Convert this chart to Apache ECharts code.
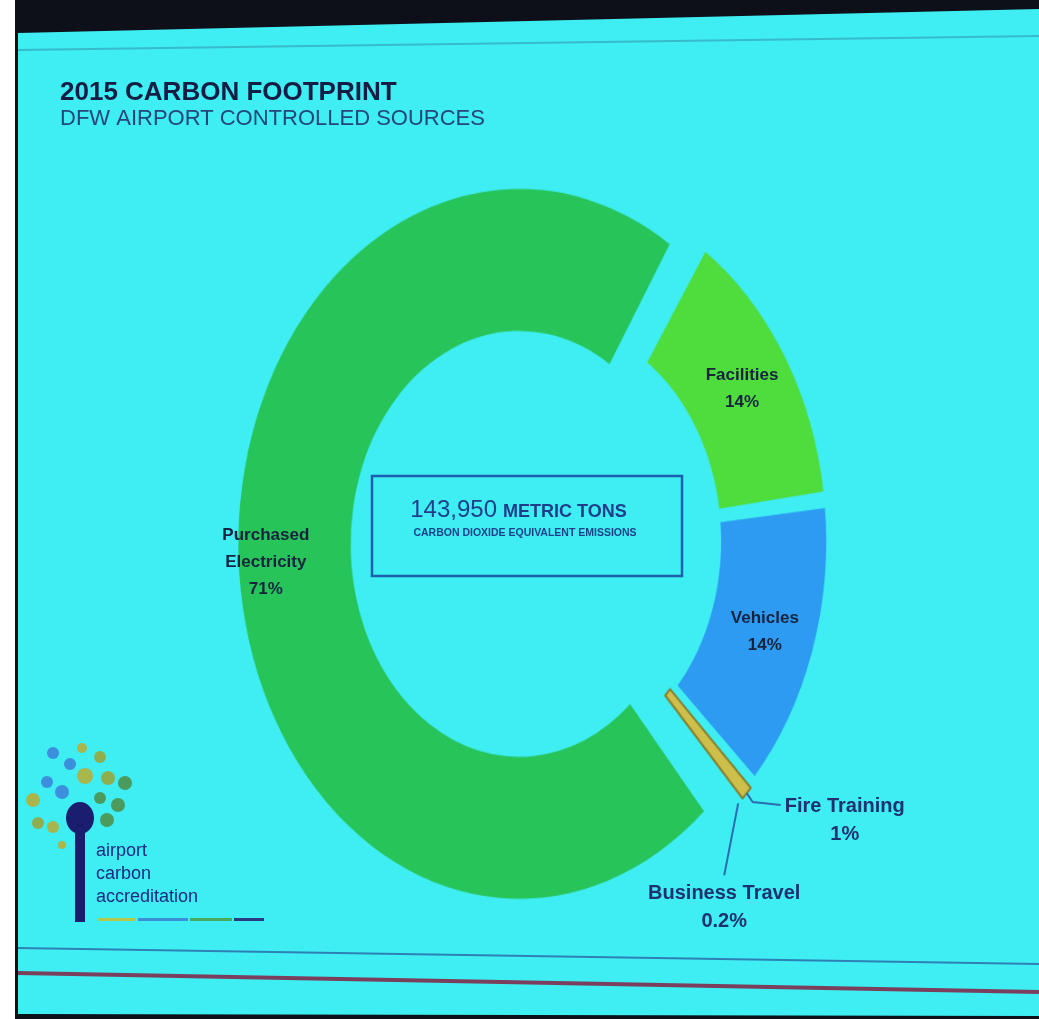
<!DOCTYPE html>
<html><head><meta charset="utf-8">
<script src="https://cdn.jsdelivr.net/npm/echarts@6/dist/echarts.min.js"></script>
<style>
html,body{margin:0;padding:0;background:#0d1018;overflow:hidden;}
.layer{position:absolute;left:0;top:0;width:1039px;height:1019px;}
#ring{transform-origin:549px 541px;transform:scale(0.906,1.145);}
</style>
</head><body>
<div id="base" class="layer"></div>
<div id="ring" class="layer"></div>
<div id="labels" class="layer"></div>
<script>
// ---- data ----
var categories = ['Facilities', 'Vehicles', 'Fire Training', 'Business Travel', 'Purchased Electricity'];
var labelNames = ['Facilities', 'Vehicles', 'Fire Training', 'Business Travel', 'Purchased\nElectricity'];
var shares = [14, 14, 1, 0.2, 71];
var shareLabels = ['14%', '14%', '1%', '0.2%', '71%'];
var titleText = '2015 CARBON FOOTPRINT';
var subtitleText = 'DFW AIRPORT CONTROLLED SOURCES';
var totalValue = '143,950';
var totalUnit = 'METRIC TONS';
var totalNote = 'CARBON DIOXIDE EQUIVALENT EMISSIONS';
var logoText = 'airport\ncarbon\naccreditation';

// ---- styling / layout ----
var sliceColors = ['#4fdd3e', '#2c9bf1', '#cdbf4a', '#2f6fc0', '#27c45a'];
var insideLabel = [true, true, false, false, true];
var exploded = [false, false, false, false, true];
var FONT = '"Liberation Sans", Arial, sans-serif';
var FT = 2, BT = 3;
var CX = 549, CY = 541, SX = 0.906, SY = 1.145;   // ring is drawn as a circle, then squashed (photo perspective)
var BG = '#3feef2';

function pieSeries(forLabels) {
  return {
    type: 'pie',
    center: [CX, CY],
    radius: [186, 310],
    startAngle: 57,
    padAngle: 1.2,
    selectedMode: 'single',
    selectedOffset: 33,
    avoidLabelOverlap: false,
    emphasis: {disabled: true},
    select: {itemStyle: {borderWidth: 0}},
    label: forLabels ? {
      show: true,
      position: 'outside',
      fontFamily: FONT,
      fontWeight: 'bold',
      fontSize: 20,
      lineHeight: 28,
      color: '#1e3170',
      formatter: function (p) { return labelNames[p.dataIndex] + '\n' + shareLabels[p.dataIndex]; }
    } : {show: false},
    labelLine: forLabels ? {show: true, length: 8, length2: 26, lineStyle: {color: '#2a6db0', width: 2}} : {show: false},
    labelLayout: forLabels ? function (p) {
      var i = p.dataIndex;
      var mapPt = function (q) { return [CX + (q[0] - CX) * SX, CY + (q[1] - CY) * SY]; };
      if (insideLabel[i]) {
        var c = mapPt([p.labelRect.x + p.labelRect.width / 2, p.labelRect.y + p.labelRect.height / 2]);
        return {x: c[0], y: c[1], align: 'center', verticalAlign: 'middle'};
      }
      var pts = p.labelLinePoints;
      if (!pts || !pts.length) return {};
      var m = pts.map(mapPt);
      var tip = m[0];
      if (i === BT) {
        var mid = [tip[0] - 14, tip[1] + 72];
        return {x: mid[0], y: mid[1] + 4, align: 'center', verticalAlign: 'top', labelLinePoints: [tip, mid, mid]};
      }
      if (i === FT) {
        var bend = [tip[0] + 6, tip[1] + 9];
        var end = [tip[0] + 34, tip[1] + 12];
        return {x: end[0] + 4 + p.labelRect.width / 2, y: end[1] - 13, align: 'center', verticalAlign: 'top', labelLinePoints: [tip, bend, end]};
      }
      return {};
    } : null,
    data: categories.map(function (c, i) {
      var item = {name: c, value: shares[i], selected: exploded[i]};
      if (forLabels) {
        item.itemStyle = {color: 'transparent', borderWidth: 0};
        if (insideLabel[i]) {
          item.label = {position: 'inside', fontSize: 17, lineHeight: 27, color: '#17233e'};
          item.labelLine = {show: false};
        }
      } else {
        item.itemStyle = {color: sliceColors[i]};
        if (i === FT) { item.itemStyle.borderColor = '#867e2e'; item.itemStyle.borderWidth = 2; }
        if (i === 0 || i === 1) { item.itemStyle.borderColor = BG; item.itemStyle.borderWidth = 8; }
      }
      return item;
    })
  };
}

// decorative logo dots
var logoDots = [
  [82, 748, 5, '#a9b64c'], [53, 753, 6, '#3c8fdc'], [70, 764, 6, '#3c8fdc'], [100, 757, 6, '#8fae50'],
  [85, 776, 8, '#a9b64c'], [108, 778, 7, '#8fae50'], [47, 782, 6, '#3c8fdc'], [125, 783, 7, '#4b9a5e'],
  [62, 792, 7, '#3c8fdc'], [100, 798, 6, '#4b9a5e'], [118, 805, 7, '#4b9a5e'], [33, 800, 7, '#a9b64c'],
  [38, 823, 6, '#8fae50'], [53, 827, 6, '#a9b64c'], [107, 820, 7, '#4b9a5e'], [62, 845, 4, '#a9b64c']
];

var graphics = [
  {type: 'rect', z: -20, shape: {x: 0, y: 0, width: 1039, height: 1019}, style: {fill: '#0d1018'}},
  {type: 'rect', z: -19, shape: {x: 0, y: 0, width: 15, height: 1019}, style: {fill: '#ffffff'}},
  {type: 'polygon', z: -18, shape: {points: [[18, 33], [1039, 9], [1039, 1016], [18, 1014]]}, style: {fill: BG}},
  {type: 'polyline', z: -17, shape: {points: [[18, 50], [1039, 36]]}, style: {stroke: 'rgba(40,90,130,0.35)', lineWidth: 2}},
  {type: 'polyline', z: -17, shape: {points: [[18, 948], [1039, 964]]}, style: {stroke: '#2c80b6', lineWidth: 2}},
  {type: 'polyline', z: -17, shape: {points: [[18, 973], [1039, 992]]}, style: {stroke: '#7b3f5e', lineWidth: 4}},
  // logo
  {type: 'rect', z: 1, shape: {x: 75, y: 826, width: 10, height: 96}, style: {fill: '#1b1d6e'}},
  {type: 'ellipse', z: 1, shape: {cx: 80, cy: 818, rx: 14, ry: 16}, style: {fill: '#1b1d6e'}},
  {type: 'text', z: 1, style: {x: 96, y: 840, text: logoText, font: '18px ' + FONT, lineHeight: 23, fill: '#1e2a80'}},
  {type: 'rect', z: 1, shape: {x: 98, y: 918, width: 38, height: 3}, style: {fill: '#b6c84a'}},
  {type: 'rect', z: 1, shape: {x: 138, y: 918, width: 50, height: 3}, style: {fill: '#3a8fd8'}},
  {type: 'rect', z: 1, shape: {x: 190, y: 918, width: 42, height: 3}, style: {fill: '#4aa860'}},
  {type: 'rect', z: 1, shape: {x: 234, y: 918, width: 30, height: 3}, style: {fill: '#2a3a80'}},
  // center box
  {type: 'rect', z: 5, shape: {x: 372, y: 476, width: 310, height: 100}, style: {fill: 'none', stroke: '#1c5fae', lineWidth: 2.5}},
  {type: 'text', z: 5, style: {x: 497, y: 522, text: totalValue, align: 'right', verticalAlign: 'bottom', font: '24px ' + FONT, fill: '#1d3f8a'}},
  {type: 'text', z: 5, style: {x: 503, y: 521, text: totalUnit, align: 'left', verticalAlign: 'bottom', font: 'bold 18px ' + FONT, fill: '#1d3f8a'}},
  {type: 'text', z: 5, style: {x: 525, y: 533, text: totalNote, align: 'center', verticalAlign: 'middle', font: 'bold 10.5px ' + FONT, fill: '#1d3f8a'}}
];
logoDots.forEach(function (d) {
  graphics.push({type: 'circle', z: 1, shape: {cx: d[0], cy: d[1], r: d[2]}, style: {fill: d[3]}});
});

var base = echarts.init(document.getElementById('base'));
base.setOption({
  animation: false,
  title: {
    text: titleText,
    subtext: subtitleText,
    left: 55,
    top: 75,
    itemGap: 2,
    textStyle: {fontFamily: FONT, fontSize: 26, fontWeight: 'bold', color: '#151d45'},
    subtextStyle: {fontFamily: FONT, fontSize: 22, color: '#24467a'}
  },
  graphic: {elements: graphics}
});

var ring = echarts.init(document.getElementById('ring'));
ring.setOption({animation: false, backgroundColor: 'transparent', series: [pieSeries(false)]});

var labels = echarts.init(document.getElementById('labels'));
labels.setOption({animation: false, backgroundColor: 'transparent', series: [pieSeries(true)]});
</script>
</body></html>
